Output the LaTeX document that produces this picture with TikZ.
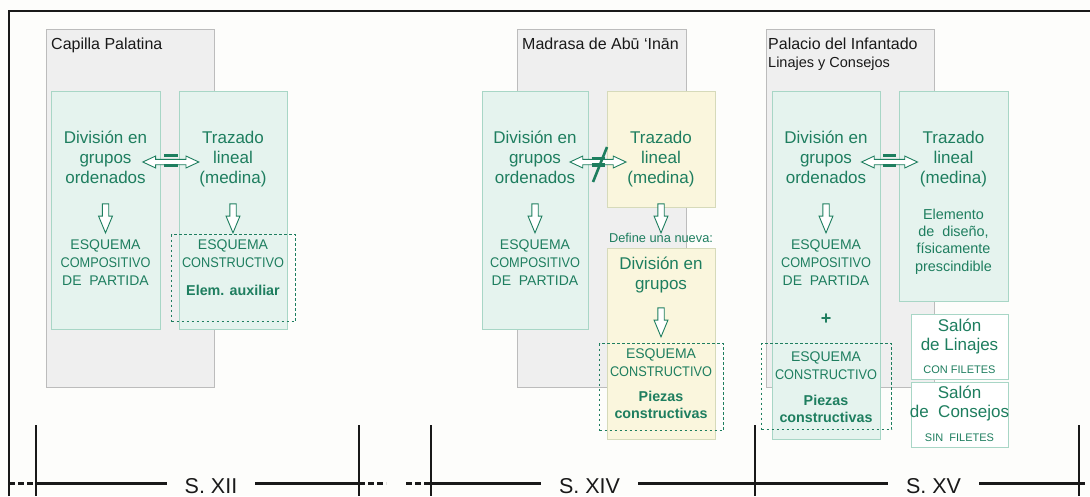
\documentclass[tikz,border=0pt]{standalone}
\usepackage{fontspec}
\setmainfont{Liberation Sans}
\usepackage{graphicx}
\usetikzlibrary{shapes.arrows}
\definecolor{verde}{RGB}{30,126,95}
\definecolor{verdefondo}{RGB}{229,243,238}
\definecolor{verdeborde}{RGB}{168,214,198}
\definecolor{amarfondo}{RGB}{250,246,221}
\definecolor{amarborde}{RGB}{214,218,186}
\definecolor{grisfondo}{RGB}{239,239,239}
\definecolor{grisborde}{RGB}{188,188,188}
\definecolor{tinta}{RGB}{25,25,25}
\definecolor{papel}{RGB}{253,253,251}
\newcommand{\estrecho}[1]{\scalebox{0.91}[1]{#1}}
\tikzset{
    panel/.style={
    rectangle,draw=grisborde,fill=grisfondo,line width=0.9pt,anchor=north west,inner sep=0pt
    },
    vbox/.style={
    rectangle,draw=verdeborde,fill=verdefondo,line width=0.9pt,anchor=north west,inner sep=0pt
    },
    abox/.style={
    rectangle,draw=amarborde,fill=amarfondo,line width=0.9pt,anchor=north west,inner sep=0pt
    },
    sbox/.style={
    rectangle,draw=verdeborde,fill=white,line width=0.9pt,anchor=north west,inner sep=0pt
    },
    marcof/.style={
    rectangle,draw=verde,line width=1.3pt,dash pattern=on 2.5pt off 2.5pt,anchor=north west,inner sep=0pt
    },
    titulo/.style={
    anchor=base west,inner sep=0pt,text=tinta,font=\fontsize{16}{19}\selectfont
    },
    subtitulo/.style={
    anchor=base west,inner sep=0pt,text=tinta,font=\fontsize{14.5}{17}\selectfont
    },
    grande/.style={
    anchor=north,align=center,inner sep=0pt,text=verde,font=\fontsize{17}{20}\selectfont,
    execute at begin node=\strut
    },
    mayus/.style={
    anchor=north,align=center,inner sep=0pt,text=verde,font=\fontsize{14}{18}\selectfont,
    execute at begin node=\strut
    },
    negrita/.style={
    anchor=north,align=center,inner sep=0pt,text=verde,font=\fontsize{14.3}{17}\selectfont\bfseries,
    execute at begin node=\strut
    },
    nota/.style={
    anchor=north,align=center,inner sep=0pt,text=verde,font=\fontsize{12.8}{15}\selectfont,
    execute at begin node=\strut
    },
    medio/.style={
    anchor=north,align=center,inner sep=0pt,text=verde,font=\fontsize{14.4}{17.3}\selectfont,
    execute at begin node=\strut
    },
    salon/.style={
    anchor=north,align=center,inner sep=0pt,text=verde,font=\fontsize{17}{19}\selectfont,
    execute at begin node=\strut
    },
    filete/.style={
    anchor=north,align=center,inner sep=0pt,text=verde,font=\fontsize{11}{13}\selectfont,
    execute at begin node=\strut
    },
    flecha/.style={
    single arrow,draw=verde,fill=white,line width=0.9pt,rotate=-90,inner xsep=0pt,inner ysep=2.75pt,
    minimum height=29pt,single arrow head extend=3.75pt,single arrow tip angle=45
    },
    dobleflecha/.style={
    double arrow,draw=verde,fill=white,line width=0.9pt,inner xsep=0pt,inner ysep=2.25pt,
    minimum height=56pt,double arrow head extend=3.25pt,double arrow tip angle=50
    },
    barra/.style={draw=verde,line width=3.2pt},
    siglo/.style={
    inner xsep=18pt,inner ysep=0pt,text height=21.4pt,text depth=0pt,text=tinta,font=\fontsize{21.5}{25}\selectfont
    },
    eje/.style={draw=tinta,line width=3pt},
    puntos/.style={dash pattern=on 6pt off 3pt},
    marca/.style={draw=tinta,line width=1.4pt},
    marco/.style={draw=tinta,line width=1.4pt},
}
\begin{document}
\begin{tikzpicture}[x=1pt,y=-1pt]
  \fill[papel] (0,0) rectangle (1090,496);
  \useasboundingbox (0,0) rectangle (1090,496);
  \draw[marco] (9,496) -- (9,11) -- (1090,11);

  % Capilla Palatina
  \node[panel,minimum width=168pt,minimum height=358pt] (capP) at (46,29) {};
  \node[titulo] (capT) at (51,49.3) {Capilla Palatina};
  \node[vbox,minimum width=109pt,minimum height=238pt] (capG) at (51,91) {};
  \node[vbox,minimum width=108pt,minimum height=238pt] (capL) at (179,91) {};
  \node[marcof,minimum width=124pt,minimum height=87pt] (capF) at (171,234) {};
  \node[grande] (capD) at (105.5,131) {División en\\grupos\\ordenados};
  \node[grande] (capR) at (233,131) {Trazado\\lineal\\(medina)};
  \node[flecha] (capA1) at (105.5,214.5) {};
  \node[flecha] (capA2) at (233,214.5) {};
  \node[mayus] (capE1) at (105.5,239.4) {ESQUEMA\\\estrecho{COMPOSITIVO}\\DE\ \ PARTIDA};
  \node[mayus] (capE2) at (233,239.4) {ESQUEMA\\\estrecho{CONSTRUCTIVO}};
  \node[negrita] (capX) at (233,283.1) {Elem. auxiliar};
  \node[dobleflecha] (capQ) at (170.8,162) {};
  \draw[barra] ([xshift=-6.75pt,yshift=6.5pt]capQ.center) -- ++(13.5,0);
  \draw[barra] ([xshift=-6.75pt,yshift=-3.5pt]capQ.center) -- ++(13.5,0);

  % Madrasa de Abu Inan
  \node[panel,minimum width=169pt,minimum height=358pt] (madP) at (517,29) {};
  \node[titulo] (madT) at (522,49.3) {Madrasa de Abū ‘Inān};
  \node[vbox,minimum width=106pt,minimum height=238pt] (madG) at (482,91) {};
  \node[abox,minimum width=108pt,minimum height=116pt] (madY1) at (607,91) {};
  \node[abox,minimum width=108pt,minimum height=191pt] (madY2) at (607,248) {};
  \node[marcof,minimum width=124pt,minimum height=87pt] (madF) at (599,343) {};
  \node[grande] (madD) at (535,131) {División en\\grupos\\ordenados};
  \node[grande] (madR) at (661,131) {Trazado\\lineal\\(medina)};
  \node[flecha] (madA1) at (535,214.5) {};
  \node[flecha] (madA2) at (661,214.5) {};
  \node[mayus] (madE1) at (535,239.4) {ESQUEMA\\\estrecho{COMPOSITIVO}\\DE\ \ PARTIDA};
  \node[nota] (madN) at (661,232.2) {Define una nueva:};
  \node[grande] (madD2) at (661,256.7) {División en\\grupos};
  \node[flecha] (madA3) at (661,318.5) {};
  \node[mayus] (madE2) at (661,348.1) {ESQUEMA\\\estrecho{CONSTRUCTIVO}};
  \node[negrita] (madX) at (661,391.4) {Piezas\\constructivas};
  \node[dobleflecha] (madQ) at (598,162) {};
  \draw[barra] ([xshift=-6.5pt,yshift=3.5pt]madQ.center) -- ++(13,0);
  \draw[barra] ([xshift=-6.5pt,yshift=-3pt]madQ.center) -- ++(13,0);
  \draw[barra,line width=2.6pt] ([shift={(-5,20)}]madQ.center) -- ([shift={(9,-15)}]madQ.center);

  % Palacio del Infantado
  \node[panel,minimum width=168pt,minimum height=358pt] (palP) at (766,29) {};
  \node[titulo] (palT) at (768,49.3) {Palacio del Infantado};
  \node[subtitulo] (palS) at (768,67) {Linajes y Consejos};
  \node[vbox,minimum width=108pt,minimum height=348pt] (palG) at (772,91) {};
  \node[vbox,minimum width=109pt,minimum height=210pt] (palL) at (899,91) {};
  \node[sbox,minimum width=97pt,minimum height=65pt] (salL) at (911,314) {};
  \node[sbox,minimum width=97pt,minimum height=65pt] (salC) at (911,382) {};
  \node[marcof,minimum width=130pt,minimum height=86pt] (palF) at (761,343) {};
  \node[grande] (palD) at (826,131) {División en\\grupos\\ordenados};
  \node[grande] (palR) at (953.5,131) {Trazado\\lineal\\(medina)};
  \node[flecha] (palA1) at (826,214.5) {};
  \node[mayus] (palE1) at (826,239.4) {ESQUEMA\\\estrecho{COMPOSITIVO}\\DE\ \ PARTIDA};
  \node[inner sep=0pt,text=verde,font=\fontsize{18}{20}\selectfont\bfseries] (palMas) at (826,319) {+};
  \node[mayus] (palE2) at (826,351.4) {ESQUEMA\\\estrecho{CONSTRUCTIVO}};
  \node[negrita] (palX) at (826,394.8) {Piezas\\constructivas};
  \node[medio] (palM) at (953.5,208.6) {Elemento\\de\ \ diseño,\\físicamente\\prescindible};
  \node[salon] (salLt) at (959.5,318.4) {Salón\\de Linajes};
  \node[filete] (salLf) at (959.5,364.2) {CON FILETES};
  \node[salon] (salCt) at (959.5,386) {Salón\\de\ \ Consejos};
  \node[filete] (salCf) at (959.5,432.6) {SIN\ \ FILETES};
  \node[dobleflecha] (palQ) at (889.5,162) {};
  \draw[barra] ([xshift=-6.75pt,yshift=6.5pt]palQ.center) -- ++(13.5,0);
  \draw[barra] ([xshift=-6.75pt,yshift=-3.5pt]palQ.center) -- ++(13.5,0);

  % eje de siglos
  \coordinate (k1) at (36,483);
  \coordinate (k2) at (359,483);
  \coordinate (k3) at (431,483);
  \coordinate (k4) at (755,483);
  \coordinate (k5) at (1079,483);
  \foreach \x in {36,359,431,755,1079}
    \draw[marca] (\x,425) -- (\x,496);
  \node[siglo] (s12) at (211,483) {S. XII};
  \node[siglo] (s14) at (589.5,483) {S. XIV};
  \node[siglo] (s15) at (933.5,483) {S. XV};
  \draw[eje] (k1) -- (s12) -- (k2);
  \draw[eje] (k3) -- (s14) -- (k4) -- (s15) -- (k5);
  \draw[eje,puntos] (9,483) -- (k1);
  \draw[eje,puntos] (k2) -- (386,483);
  \draw[eje,puntos] (406,483) -- (k3);
  \draw[eje] (k5) -- (1085,483);
\end{tikzpicture}
\end{document}
